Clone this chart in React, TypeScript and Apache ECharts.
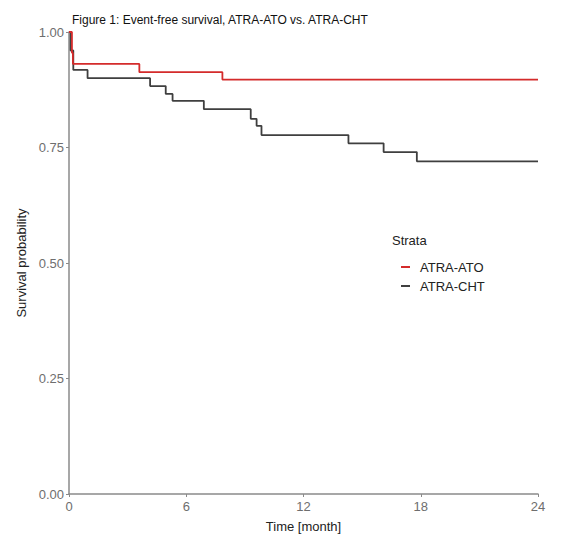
import React, { useEffect, useRef } from "react";
import * as echarts from "echarts";

const atoTimes = [0, 0.15, 0.2, 3.6, 7.85, 24];
const atoSurv = [1, 0.955, 0.931, 0.913, 0.897, 0.897];

const chtTimes = [0, 0.08, 0.22, 0.95, 4.15, 4.95, 5.3, 6.9, 9.3, 9.6, 9.85, 14.3, 16.1, 17.8, 24];
const chtSurv = [1, 0.96, 0.918, 0.9, 0.883, 0.866, 0.851, 0.833, 0.812, 0.797, 0.777, 0.759, 0.74, 0.72, 0.72];

const xTicks = [0, 6, 12, 18, 24];
const yTicks = [0, 0.25, 0.5, 0.75, 1];

const strata = ["ATRA-ATO", "ATRA-CHT"];
const colors = ["#d42b2b", "#3f3f3f"];

const FONT = "Liberation Sans, Arial, sans-serif";

export default function App() {
  const ref = useRef<HTMLDivElement>(null);
  useEffect(() => {
    if (!ref.current) return;
    const chart = echarts.init(ref.current, undefined, { renderer: "svg" });
    const toPairs = (t: number[], s: number[]) => t.map((v, i) => [v, s[i]]);
    chart.setOption({
      animation: false,
      textStyle: { fontFamily: FONT },
      title: {
        text: "Figure 1: Event-free survival, ATRA-ATO vs. ATRA-CHT",
        left: 67,
        top: 9,
        textStyle: { fontSize: 12, fontWeight: "normal", color: "#111", fontFamily: FONT },
      },
      graphic: [
        {
          type: "text",
          left: 392,
          top: 234,
          style: { text: "Strata", fontSize: 13, fill: "#222", fontFamily: FONT },
        },
      ],
      legend: {
        orient: "vertical",
        left: 401,
        top: 260,
        padding: 0,
        icon: "rect",
        itemWidth: 9,
        itemHeight: 2,
        itemGap: 5,
        data: strata,
        textStyle: { fontSize: 13, color: "#222", fontFamily: FONT, padding: [0, 0, 0, 5], lineHeight: 14 },
      },
      grid: { left: 69, right: 30, top: 32, bottom: 58 },
      xAxis: {
        type: "value",
        min: xTicks[0],
        max: xTicks[xTicks.length - 1],
        interval: 6,
        name: "Time [month]",
        nameLocation: "middle",
        nameGap: 26,
        nameTextStyle: { fontSize: 13, color: "#222", fontFamily: FONT },
        axisLine: { show: true, lineStyle: { color: "#8a8a8a", width: 1.5 } },
        axisTick: { show: true, length: 3, lineStyle: { color: "#8a8a8a" } },
        axisLabel: { fontSize: 13, color: "#6e6e6e", margin: 6, fontFamily: FONT },
        splitLine: { show: false },
      },
      yAxis: {
        type: "value",
        min: yTicks[0],
        max: yTicks[yTicks.length - 1],
        interval: 0.25,
        name: "Survival probability",
        nameLocation: "middle",
        nameGap: 40,
        nameTextStyle: { fontSize: 13, color: "#222", fontFamily: FONT },
        axisLine: { show: true, lineStyle: { color: "#8a8a8a", width: 1.5 } },
        axisTick: { show: true, length: 3, lineStyle: { color: "#8a8a8a" } },
        axisLabel: {
          fontSize: 13,
          color: "#6e6e6e",
          margin: 5,
          fontFamily: FONT,
          formatter: (v: number) => v.toFixed(2),
        },
        splitLine: { show: false },
      },
      series: [
        {
          name: strata[0],
          type: "line",
          step: "end",
          symbol: "none",
          data: toPairs(atoTimes, atoSurv),
          lineStyle: { color: colors[0], width: 1.8 },
          itemStyle: { color: colors[0] },
          z: 3,
        },
        {
          name: strata[1],
          type: "line",
          step: "end",
          symbol: "none",
          data: toPairs(chtTimes, chtSurv),
          lineStyle: { color: colors[1], width: 1.8 },
          itemStyle: { color: colors[1] },
          z: 2,
        },
      ],
    });
    return () => chart.dispose();
  }, []);
  return (
    <div
      ref={ref}
      style={{ position: "absolute", left: 0, top: 0, width: 568, height: 552, background: "#fff" }}
    />
  );
}
